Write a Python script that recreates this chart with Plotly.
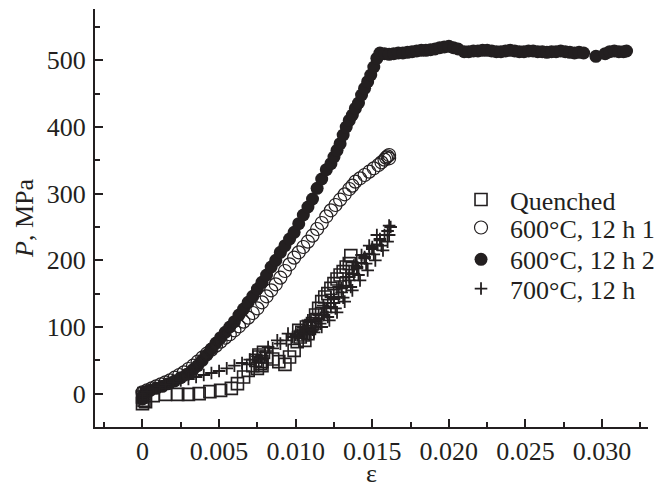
import plotly.graph_objects as go

# ---------------- data ----------------
# Quenched
q_eps = [0, 0.0001, 0, 0.0002, 0.0001, 0.0007, 0.0015, 0.0023, 0.0030, 0.0037,
         0.0044, 0.0051, 0.0058, 0.0062, 0.0066, 0.0069, 0.0072, 0.0074, 0.0076, 0.0078,
         0.0075, 0.0079, 0.0081, 0.0077, 0.0085, 0.0089, 0.0093, 0.0096, 0.0099, 0.0101,
         0.0103, 0.0102, 0.0105, 0.0107, 0.0106, 0.0109, 0.0111, 0.0113, 0.0115, 0.0117,
         0.0119, 0.0121, 0.0123, 0.0125, 0.0127, 0.0129, 0.0131, 0.0133, 0.0135, 0.0136,
         0.0137, 0.0076, 0.0078, 0.0104, 0.0108, 0.0110]
q_p = [-15, -10, -5, -12, 0, -3, -1, -1, -1, 0,
       3, 5, 8, 15, 25, 35, 42, 50, 55, 48,
       38, 62, 55, 45, 52, 48, 44, 55, 65, 78,
       85, 95, 88, 100, 80, 98, 105, 118, 128, 138,
       145, 150, 158, 165, 172, 178, 183, 190, 195, 207,
       188, 58, 42, 92, 90, 102]

# 600 C, 12 h 1 (open circles)
o_eps = [0, 0.0003, 0.0006, 0.0009, 0.0012, 0.0015, 0.0018, 0.0021, 0.0024, 0.0027,
         0.0030, 0.0033, 0.0036, 0.0039, 0.0042, 0.0045, 0.0048, 0.0051, 0.0054, 0.0057,
         0.0060, 0.0063, 0.0066, 0.0069, 0.0072, 0.0075, 0.0078, 0.0081, 0.0084, 0.0087,
         0.0090, 0.0093, 0.0096, 0.0099, 0.0102, 0.0105, 0.0108, 0.0111, 0.0114, 0.0117,
         0.0120, 0.0123, 0.0126, 0.0129, 0.0132, 0.0135, 0.0137, 0.0139, 0.0142, 0.0145,
         0.0148, 0.0151, 0.0154, 0.0156, 0.0158, 0.0159, 0.0160, 0.0161, 0.0161]
o_p = [2, 5, 8, 11, 14, 17, 20, 24, 28, 32,
       37, 42, 48, 54, 60, 66, 72, 78, 84, 89,
       95, 101, 108, 114, 121, 128, 137, 146, 155, 164,
       174, 184, 194, 204, 212, 220, 228, 237, 247, 256,
       266, 275, 283, 291, 299, 307, 312, 318, 323, 328,
       333, 338, 343, 347, 351, 354, 356, 358, 353]

# 600 C, 12 h 2 (filled circles)
f_eps = [0, 0.0001, 0.0002, 0.0005, 0.0009, 0.0013, 0.0017, 0.0021, 0.0025, 0.0029,
         0.0033, 0.0036, 0.0039, 0.0042, 0.0045, 0.0048, 0.0051, 0.0054, 0.0057, 0.0060,
         0.0063, 0.0066, 0.0069, 0.0072, 0.0075, 0.0078, 0.0081, 0.0084, 0.0087, 0.0090,
         0.0093, 0.0096, 0.0099, 0.0102, 0.0105, 0.0108, 0.0111, 0.0114, 0.0117, 0.0120,
         0.0123, 0.0125, 0.0127, 0.0129, 0.0131, 0.0133, 0.0135, 0.0137, 0.0139, 0.0141,
         0.0143, 0.0145, 0.0147, 0.0149, 0.0151, 0.0153,
         0.0155, 0.0158, 0.0161, 0.0164, 0.0167, 0.0170, 0.0173, 0.0176, 0.0179, 0.0182,
         0.0185, 0.0188, 0.0191, 0.0194, 0.0197, 0.0200, 0.0203, 0.0206, 0.0210, 0.0213,
         0.0216, 0.0219, 0.0222, 0.0225, 0.0228, 0.0231, 0.0234, 0.0237, 0.0240, 0.0243,
         0.0246, 0.0249, 0.0252, 0.0255, 0.0258, 0.0261, 0.0264, 0.0267, 0.0270, 0.0273,
         0.0276, 0.0279, 0.0282, 0.0285, 0.0288, 0.0296, 0.0302, 0.0305, 0.0308, 0.0311,
         0.0314, 0.0316]
f_p = [-8, -2, 3, 5, 8, 11, 15, 19, 24, 29,
       36, 42, 50, 58, 67, 76, 84, 92, 100, 108,
       118, 127, 137, 146, 157, 167, 178, 190, 200, 212,
       222, 232, 242, 255, 268, 280, 292, 308, 322, 336,
       345, 355, 365, 375, 388, 400, 410, 418, 428, 436,
       448, 458, 468, 478, 490, 503,
       511, 510, 509, 510, 511, 511, 512, 513, 514, 515,
       515, 516, 517, 519, 520, 521, 519, 517, 513, 513,
       514, 514, 515, 515, 514, 513, 513, 514, 515, 514,
       513, 513, 514, 514, 513, 513, 512, 513, 513, 514,
       513, 512, 511, 512, 511, 506, 510, 513, 514, 513,
       513, 514]

# 700 C, 12 h (crosses)
c_eps = [0, 0.0003, 0.0007, 0.0011, 0.0015, 0.0020, 0.0025, 0.0030, 0.0035, 0.0040,
         0.0045, 0.0050, 0.0055, 0.0060, 0.0065, 0.0070, 0.0075, 0.0080, 0.0085, 0.0090,
         0.0094, 0.0098, 0.0100, 0.0102, 0.0103, 0.0105, 0.0106, 0.0108, 0.0110, 0.0111,
         0.0113, 0.0115, 0.0116, 0.0118, 0.0120, 0.0121, 0.0123, 0.0125, 0.0126, 0.0128,
         0.0130, 0.0131, 0.0133, 0.0135, 0.0136, 0.0138, 0.0140, 0.0141, 0.0143, 0.0145,
         0.0146, 0.0148, 0.0150, 0.0151, 0.0153, 0.0155, 0.0156, 0.0158, 0.0160, 0.0161,
         0.0162, 0.0161,
         0.0108, 0.0113, 0.0118, 0.0123, 0.0128, 0.0133, 0.0138, 0.0143, 0.0148, 0.0153,
         0.0112, 0.0117, 0.0122, 0.0127, 0.0132, 0.0137, 0.0142, 0.0147, 0.0152, 0.0157,
         0.0160, 0.0105, 0.0110, 0.0115, 0.0120, 0.0125, 0.0130, 0.0135, 0.0140, 0.0145,
         0.0150, 0.0155, 0.0095, 0.0088, 0.0082]
c_p = [0, 3, 7, 11, 14, 17, 20, 22, 25, 28,
       31, 34, 38, 42, 46, 51, 56, 62, 68, 75,
       80, 85, 88, 84, 92, 95, 90, 98, 102, 96,
       108, 112, 105, 118, 122, 115, 130, 136, 128, 145,
       152, 144, 162, 170, 160, 180, 188, 178, 196, 203,
       195, 210, 217, 209, 224, 230, 222, 238, 244, 238,
       250, 252,
       110, 120, 132, 145, 160, 175, 192, 208, 222, 238,
       92, 100, 110, 122, 138, 155, 170, 185, 200, 215,
       228, 100, 110, 118, 128, 142, 158, 175, 190, 205,
       220, 232, 90, 80, 70]

series_names = ["Quenched", "600°C, 12 h 1", "600°C, 12 h 2", "700°C, 12 h"]

x_tickvals = [0, 0.005, 0.010, 0.015, 0.020, 0.025, 0.030]
x_ticktext = ["0", "0.005", "0.010", "0.015", "0.020", "0.025", "0.030"]
x_minor = [-0.0025, 0.0025, 0.0075, 0.0125, 0.0175, 0.0225, 0.0275, 0.0325]
y_tickvals = [0, 100, 200, 300, 400, 500]
y_ticktext = ["0", "100", "200", "300", "400", "500"]
y_minor = [50, 150, 250, 350, 450, 550]

# ---------------- figure ----------------
INK = "#231f20"
FONT = "Liberation Serif, Times New Roman, serif"

fig = go.Figure()

fig.add_trace(go.Scatter(
    x=f_eps, y=f_p, mode="markers", name=series_names[2], legend="legend3",
    marker=dict(symbol="circle", size=13, color=INK, line=dict(width=0))))
fig.add_trace(go.Scatter(
    x=o_eps, y=o_p, mode="markers", name=series_names[1], legend="legend2",
    marker=dict(symbol="circle-open", size=13, color=INK, line=dict(width=1.2, color=INK))))
fig.add_trace(go.Scatter(
    x=q_eps, y=q_p, mode="markers", name=series_names[0], legend="legend",
    marker=dict(symbol="square-open", size=12, color=INK, line=dict(width=1.6, color=INK))))
fig.add_trace(go.Scatter(
    x=c_eps, y=c_p, mode="markers", name=series_names[3], legend="legend4",
    marker=dict(symbol="cross-thin-open", size=9, color=INK, line=dict(width=1.8, color=INK))))

def leg(y):
    return dict(x=0.6456, y=y, xanchor="left", yanchor="middle",
                bgcolor="rgba(0,0,0,0)", borderwidth=0,
                font=dict(family=FONT, size=26, color=INK), itemwidth=48)

fig.update_layout(
    width=672, height=487,
    margin=dict(l=95, r=24, t=9, b=60),
    paper_bgcolor="white", plot_bgcolor="white",
    font=dict(family=FONT, size=26, color=INK),
    showlegend=True,
    legend=leg(0.544), legend2=leg(0.477), legend3=leg(0.401), legend4=leg(0.331),
    xaxis=dict(
        range=[-0.0031, 0.0330], showgrid=False, zeroline=False,
        showline=True, linewidth=2, linecolor=INK,
        ticks="inside", ticklen=8, tickwidth=1.5, tickcolor=INK,
        tickmode="array", tickvals=x_tickvals, ticktext=x_ticktext,
        minor=dict(tickmode="array", tickvals=x_minor, ticks="inside", ticklen=5,
                   tickwidth=1.5, tickcolor=INK, showgrid=False),
        tickfont=dict(family=FONT, size=26, color=INK),
    ),
    yaxis=dict(
        range=[-50, 577], showgrid=False, zeroline=False,
        showline=True, linewidth=2, linecolor=INK,
        ticks="inside", ticklen=8, tickwidth=1.5, tickcolor=INK,
        tickmode="array", tickvals=y_tickvals, ticktext=y_ticktext,
        minor=dict(tickmode="array", tickvals=y_minor, ticks="inside", ticklen=5,
                   tickwidth=1.5, tickcolor=INK, showgrid=False),
        tickfont=dict(family=FONT, size=26, color=INK),
        ticklabelstandoff=2,
        title=dict(text="<i>P</i>, MPa", font=dict(family=FONT, size=26, color=INK), standoff=6),
    ),
    annotations=[dict(text="ε", xref="paper", yref="paper", x=0.5, y=-0.11,
                      xanchor="center", yanchor="middle", showarrow=False,
                      height=18, valign="middle", borderpad=0,
                      font=dict(family=FONT, size=26, color=INK))],
)

fig.write_html("out.html")
